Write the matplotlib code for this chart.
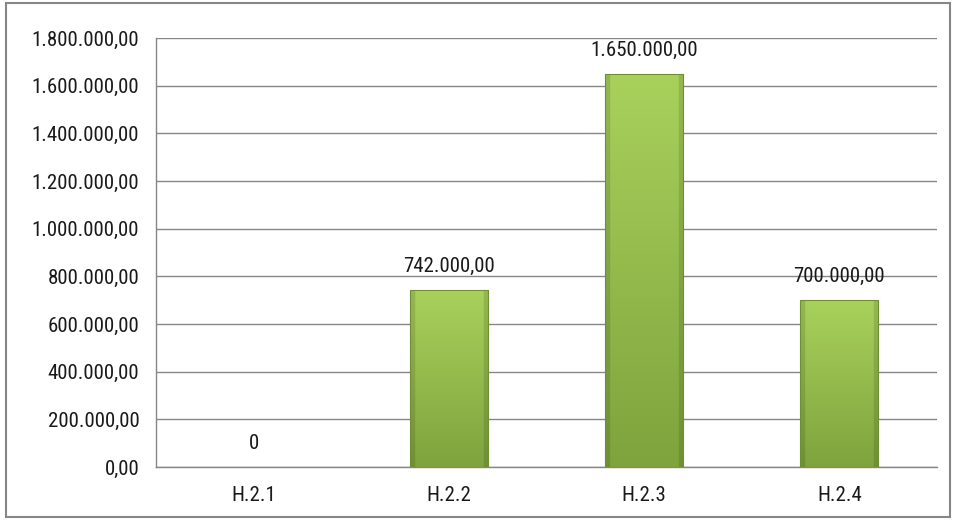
import matplotlib.pyplot as plt
import numpy as np
from matplotlib.patches import Rectangle
from matplotlib import font_manager

# pick a narrow font close to Calibri if one is installed
names = {f.name for f in font_manager.fontManager.ttflist}
family = 'DejaVu Sans'
for cand in ['Liberation Sans Narrow', 'DejaVu Sans Condensed', 'Roboto Condensed',
             'Open Sans Condensed', 'Roboto']:
    if cand in names:
        family = cand
        break
plt.rcParams['font.family'] = [family, 'DejaVu Sans']
if family == 'DejaVu Sans':
    plt.rcParams['font.stretch'] = 'condensed'

categories = ['H.2.1', 'H.2.2', 'H.2.3', 'H.2.4']
values = [0, 742000, 1650000, 700000]
value_labels = ['0', '742.000,00', '1.650.000,00', '700.000,00']
yticks = [0, 200000, 400000, 600000, 800000, 1000000, 1200000, 1400000, 1600000, 1800000]


def fmt(v):
    s = f"{v:,.2f}"
    return s.replace(',', 'X').replace('.', ',').replace('X', '.')


fs = 15 if family != 'DejaVu Sans' else 12.5

fig = plt.figure(figsize=(9.55, 5.21), dpi=100)
# outer frame
fig.patches.append(Rectangle((0.006, 0.008), 0.989, 0.986, transform=fig.transFigure,
                             fill=False, edgecolor='#868686', linewidth=1.5))
ax = fig.add_axes([156 / 955, 1 - 467 / 521, (937 - 156) / 955, (467 - 38) / 521])

x = np.arange(len(categories))
width = 0.4
bars = ax.bar(x, values, width=width, color='#9bc84a', zorder=3)

# gradient fill + bevel look
ny, nx = 100, 60
yy = np.linspace(0, 1, ny)[:, None]
xx = np.linspace(0, 1, nx)[None, :]
top = np.array([0.66, 0.82, 0.36])
bot = np.array([0.50, 0.64, 0.24])
grad = top[None, None, :] * (1 - yy[..., None]) + bot[None, None, :] * yy[..., None]
edge = np.minimum(xx, 1 - xx)
shade = np.where(edge < 0.06, 0.88, 1.0)
img = np.clip(grad * shade[..., None], 0, 1)
for b in bars:
    h = b.get_height()
    if h <= 0:
        continue
    x0 = b.get_x()
    im = ax.imshow(img, extent=[x0, x0 + width, 0, h], aspect='auto', zorder=4,
                   origin='upper')
    im.set_clip_path(b)
    ax.add_patch(Rectangle((x0, 0), width, h, fill=False, edgecolor='#6f8f30',
                           linewidth=0.8, zorder=5))

for xi, v, lab in zip(x, values, value_labels):
    ax.annotate(lab, (xi, v), xytext=(0, 10), textcoords='offset points',
                ha='center', va='bottom', fontsize=fs, color='#1a1a1a', zorder=6)

ax.set_xlim(-0.5, 3.5)
ax.set_ylim(0, 1800000)
ax.set_yticks(yticks)
ax.set_yticklabels([fmt(t) for t in yticks], fontsize=fs, color='#1a1a1a')
ax.set_xticks(x)
ax.set_xticklabels(categories, fontsize=fs, color='#1a1a1a')
ax.tick_params(axis='x', length=0, pad=14)
ax.tick_params(axis='y', length=0, pad=12)
ax.yaxis.grid(True, color='#868686', linewidth=1, zorder=0)
ax.set_axisbelow(True)
for s in ['top', 'right']:
    ax.spines[s].set_visible(False)
for s in ['left', 'bottom']:
    ax.spines[s].set_color('#868686')
    ax.spines[s].set_linewidth(1)

fig.savefig('out.png', dpi=100)
